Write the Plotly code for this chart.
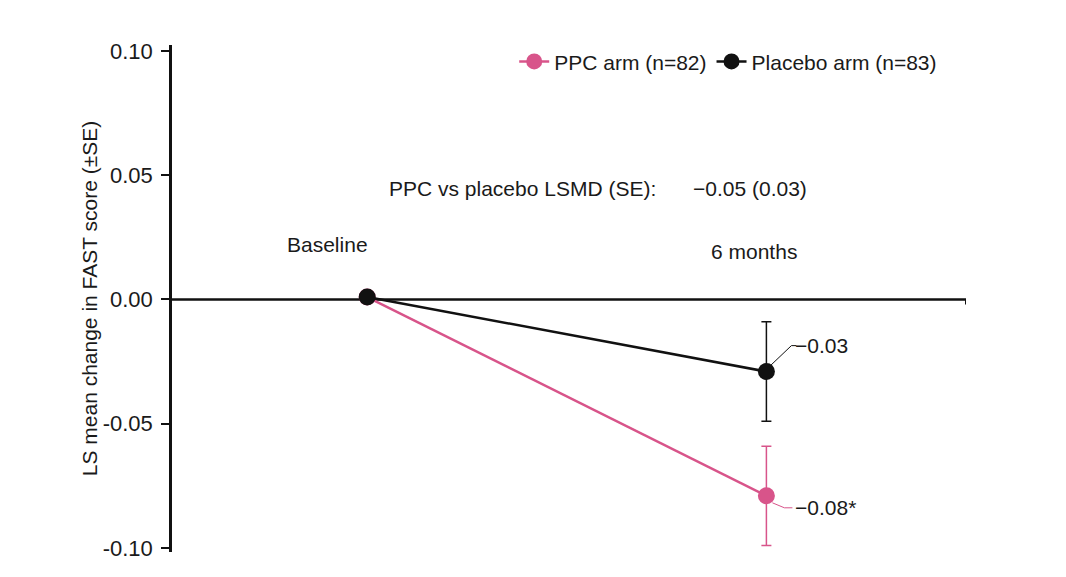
import plotly.graph_objects as go

# Data
timepoints = ["Baseline", "6 months"]
x_pos = [0, 1]
ppc_mean = [0.001, -0.079]
ppc_se = [0, 0.02]
placebo_mean = [0.001, -0.029]
placebo_se = [0, 0.02]
ppc_label = "−0.08*"
placebo_label = "−0.03"
lsmd_text = "PPC vs placebo LSMD (SE):"
lsmd_value = "−0.05 (0.03)"
ytick_vals = [-0.10, -0.05, 0.0, 0.05, 0.10]
ytick_text = ["-0.10", "-0.05", "0.00", "0.05", "0.10"]

PINK = "#d8548a"
BLACK = "#111111"
TXT = "#1a1a1a"
FONT = "Liberation Sans, Arial, sans-serif"
FS = 21

fig = go.Figure()

fig.add_trace(go.Scatter(
    x=x_pos, y=ppc_mean, name="PPC arm (n=82)", mode="lines+markers",
    line=dict(color=PINK, width=2.5),
    marker=dict(color=PINK, size=17, opacity=1, line=dict(width=0)),
    error_y=dict(type="data", array=ppc_se, visible=True, color=PINK, thickness=1.5, width=5),
))
fig.add_trace(go.Scatter(
    x=x_pos, y=placebo_mean, name="Placebo arm (n=83)", mode="lines+markers",
    line=dict(color=BLACK, width=2.5),
    marker=dict(color=BLACK, size=17, opacity=1, line=dict(width=0)),
    error_y=dict(type="data", array=placebo_se, visible=True, color=BLACK, thickness=1.5, width=5),
))

# zero line
fig.add_shape(type="line", xref="x", yref="y", x0=-0.489, x1=1.5, y0=0, y1=0,
              line=dict(color=BLACK, width=2.5), layer="below")
fig.add_shape(type="line", xref="x", yref="y", x0=1.5, x1=1.5, y0=0, y1=-0.002,
              line=dict(color=BLACK, width=2))

# leader lines (offsets in pixels converted to data units)
px = 1 / 399.0
py = 0.05 / 124.5
fig.add_shape(type="path", xref="x", yref="y",
              path=(f"M {x_pos[1]+3*px},{placebo_mean[1]+5*py} "
                    f"L {x_pos[1]+25*px},{placebo_mean[1]+26*py} "
                    f"L {x_pos[1]+30*px},{placebo_mean[1]+26*py}"),
              line=dict(color=BLACK, width=1))
fig.add_shape(type="path", xref="x", yref="y",
              path=(f"M {x_pos[1]+6*px},{ppc_mean[1]-7*py} "
                    f"L {x_pos[1]+18*px},{ppc_mean[1]-12*py} "
                    f"L {x_pos[1]+26*px},{ppc_mean[1]-12*py}"),
              line=dict(color=PINK, width=1))

fig.add_annotation(x=x_pos[1]+27*px, y=placebo_mean[1]+26*py, text=placebo_label, showarrow=False,
                   xanchor="left", yanchor="middle", font=dict(size=FS, color=TXT))
fig.add_annotation(x=x_pos[1]+27*px, y=ppc_mean[1]-12*py, text=ppc_label, showarrow=False,
                   xanchor="left", yanchor="middle", font=dict(size=FS, color=TXT))

# timepoint labels
fig.add_annotation(x=x_pos[0]-0.1, y=0.0221, text=timepoints[0], showarrow=False,
                   font=dict(size=FS, color=TXT))
fig.add_annotation(x=x_pos[1]-0.03, y=0.0193, text=timepoints[1], showarrow=False,
                   font=dict(size=FS, color=TXT))

# LSMD text
fig.add_annotation(x=0.05, y=0.0448, text=lsmd_text, showarrow=False, xanchor="left",
                   font=dict(size=FS, color=TXT))
fig.add_annotation(x=0.81, y=0.0448, text=lsmd_value, showarrow=False, xanchor="left",
                   font=dict(size=FS, color=TXT))

fig.update_layout(
    width=1058, height=569,
    margin=dict(l=164, r=100, t=37, b=25),
    paper_bgcolor="white", plot_bgcolor="white",
    font=dict(family=FONT, color=TXT, size=FS),
    showlegend=True,
    legend=dict(orientation="h", x=0.431, y=0.967, xanchor="left", yanchor="middle",
                font=dict(size=FS, color=TXT), bgcolor="rgba(0,0,0,0)", itemwidth=30,
                tracegroupgap=0),
    xaxis=dict(range=[-0.489, 1.5], showgrid=False, zeroline=False, showline=False,
               showticklabels=False, ticks=""),
    yaxis=dict(range=[-0.1016, 0.1024], showgrid=False, zeroline=False, showline=True,
               linecolor=BLACK, linewidth=2.5, ticks="outside", ticklen=8, tickwidth=2,
               tickcolor=BLACK, tickvals=ytick_vals, ticktext=ytick_text,
               ticklabelstandoff=4,
               tickfont=dict(size=22, color=TXT),
               title=dict(text="LS mean change in FAST score (±SE)", font=dict(size=21, color=TXT),
                          standoff=0)),
)

fig.write_html("out.html")
